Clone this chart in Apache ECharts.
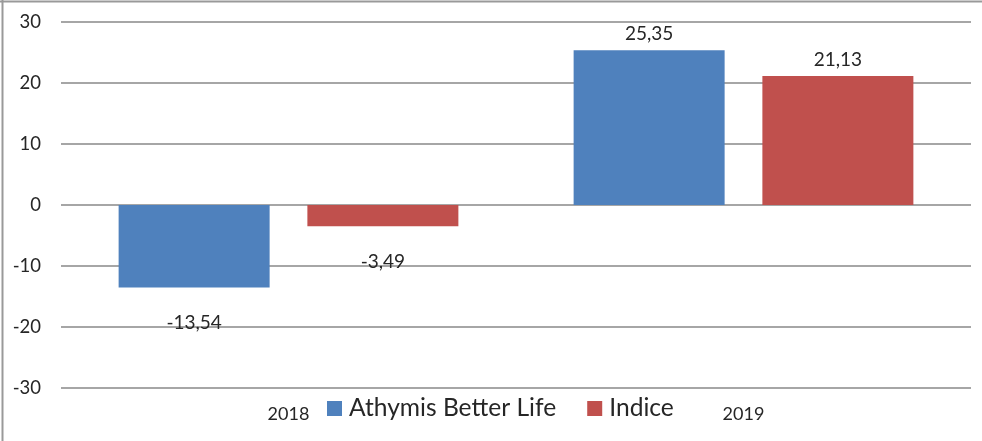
<!DOCTYPE html>
<html>
<head>
<meta charset="utf-8">
<script src="https://cdn.jsdelivr.net/npm/echarts@6/dist/echarts.min.js"></script>
<style>
  html, body { margin: 0; padding: 0; background: #fff; }
  #chart { width: 982px; height: 441px; }
</style>
</head>
<body>
<div id="chart"></div>
<script>
// years on the x axis
var years = ['2018', '2019']
// performance in %
var fundValues = [-13.54, 25.35]
var indexValues = [-3.49, 21.13]
var seriesNames = ['Athymis Better Life', 'Indice']

var font = 'Lato, "Open Sans", sans-serif'

// french decimal comma
function fmt(v) {
    return v.toFixed(2).replace('.', ',')
}

// labels above positive bars, further below negative ones (like the excel original)
function toItems(arr) {
    return arr.map(v => {
        return {
            value: v,
            label: v < 0 ?
                { position: 'bottom', distance: 26 } :
                { position: 'top', distance: 7 }
        }
    })
}

var chart = echarts.init(document.getElementById('chart'))
var option = {
    animation: false,
    color: ['#4f81bd', '#c0504d'],
    grid: {
        left: 61,
        right: 11,
        top: 22,
        bottom: 53
    },
    legend: {
        data: seriesNames,
        left: 327,
        top: 396,
        padding: 0,
        icon: 'rect',
        itemWidth: 15,
        itemHeight: 15,
        itemGap: 31,
        textStyle: {
            fontFamily: font,
            fontSize: 24.6,
            color: '#262626',
            padding: [0, 0, 0, 2]
        }
    },
    xAxis: {
        type: 'category',
        data: years,
        axisLine: { show: false },
        axisTick: { show: false },
        axisLabel: {
            margin: 17,
            fontFamily: font,
            fontSize: 18,
            color: '#262626'
        }
    },
    yAxis: {
        type: 'value',
        min: -30,
        max: 30,
        interval: 10,
        axisLine: { show: false },
        axisTick: { show: false },
        axisLabel: {
            margin: 20,
            fontFamily: font,
            fontSize: 18.5,
            color: '#262626'
        },
        splitLine: {
            lineStyle: { color: '#a6a6a6', width: 2 }
        }
    },
    series: [{
        name: seriesNames[0],
        type: 'bar',
        barWidth: 151,
        barGap: '25%',
        data: toItems(fundValues),
        label: {
            show: true,
            formatter: p => fmt(p.value),
            fontFamily: font,
            fontSize: 19,
            color: '#262626'
        }
    }, {
        name: seriesNames[1],
        type: 'bar',
        barWidth: 151,
        barGap: '25%',
        data: toItems(indexValues),
        label: {
            show: true,
            formatter: p => fmt(p.value),
            fontFamily: font,
            fontSize: 19,
            color: '#262626'
        }
    }],
    graphic: [{
        type: 'line',
        shape: { x1: 0, y1: 1.5, x2: 982, y2: 1.5 },
        style: { stroke: '#999', lineWidth: 2 }
    }, {
        type: 'line',
        shape: { x1: 2.5, y1: 0, x2: 2.5, y2: 441 },
        style: { stroke: '#999', lineWidth: 2 }
    }]
}
chart.setOption(option)
</script>
</body>
</html>
